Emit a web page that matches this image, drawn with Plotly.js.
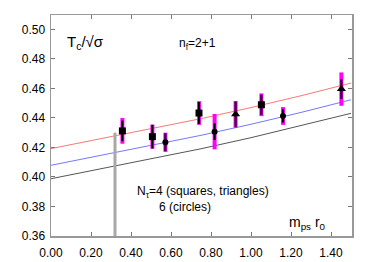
<!DOCTYPE html>
<html><head><meta charset="utf-8">
<script src="https://cdn.plot.ly/plotly-3.0.1.min.js"></script>
<style>html,body{margin:0;padding:0;background:#fff}</style>
</head><body><div id="plot" style="width:374px;height:262px"></div>
<script>
// Data
const sqX = [0.357, 0.507, 0.740, 1.052];
const sqY = [0.4312, 0.4273, 0.4433, 0.4489];
const sqErrStat = [0.0070, 0.0080, 0.0074, 0.0068];
const sqErrTot  = [0.0087, 0.0082, 0.0080, 0.0077];

const triX = [0.923, 1.452];
const triY = [0.4424, 0.4595];
const triErrStat = [0.0087, 0.0066];
const triErrTot  = [0.0090, 0.0113];

const cirX = [0.572, 0.818, 1.160];
const cirY = [0.4235, 0.4307, 0.4413];
const cirErrStat = [0.0060, 0.0056, 0.0045];
const cirErrTot  = [0.0065, 0.0120, 0.0060];

const fitX     = [0, 0.25, 0.5, 0.75, 1.0, 1.25, 1.5];
const fitRed   = [0.4192, 0.4258, 0.4325, 0.4395, 0.4470, 0.4550, 0.4636];
const fitBlue  = [0.4079, 0.4145, 0.4212, 0.4282, 0.4357, 0.4437, 0.4523];
const fitBlack = [0.3988, 0.4054, 0.4121, 0.4191, 0.4266, 0.4346, 0.4431];

const barX = [0.32, 0.32];
const barY = [0.36, 0.430];

const xTicks = [0, 0.2, 0.4, 0.6, 0.8, 1.0, 1.2, 1.4];
const xTickText = ['0.00','0.20','0.40','0.60','0.80','1.00','1.20','1.40'];
const yTicks = [0.36, 0.38, 0.40, 0.42, 0.44, 0.46, 0.48, 0.50];
const yTickText = ['0.36','0.38','0.40','0.42','0.44','0.46','0.48','0.50'];

const traces = [];
traces.push({x: fitX, y: fitBlack, mode:'lines', line:{color:'#555555', width:1}, hoverinfo:'skip'});
traces.push({x: fitX, y: fitBlue, mode:'lines', line:{color:'#7777ff', width:1}, hoverinfo:'skip'});
traces.push({x: fitX, y: fitRed, mode:'lines', line:{color:'#ff7777', width:1}, hoverinfo:'skip'});
traces.push({x: barX, y: barY, mode:'lines', line:{color:'#a8a8a8', width:3}, hoverinfo:'skip'});

function addSet(xs, ys, stat, tot, sym, size) {
  traces.push({x: xs, y: ys, mode:'markers', marker:{size:1, color:'rgba(0,0,0,0)'},
    error_y:{type:'data', array: tot, visible:true, color:'#ff00ff', thickness:4, width:0}});
  traces.push({x: xs, y: ys, mode:'markers', marker:{symbol: sym, size: size, color:'#000000'},
    error_y:{type:'data', array: stat, visible:true, color:'#000000', thickness:2, width:0}});
}
addSet(sqX, sqY, sqErrStat, sqErrTot, 'square', 7);
addSet(triX, triY, triErrStat, triErrTot, 'triangle-up', 8);
addSet(cirX, cirY, cirErrStat, cirErrTot, 'circle', 6);

const axisCommon = {
  showline:true, linecolor:'#999999', linewidth:1.5, mirror:'ticks',
  ticks:'inside', ticklen:4, tickcolor:'#777777', tickwidth:1,
  showgrid:false, zeroline:false,
  tickfont:{family:'Liberation Sans, Arial, sans-serif', size:12, color:'#000'}
};

const layout = {
  width:374, height:262,
  margin:{l:51, r:22, t:15, b:26},
  showlegend:false,
  paper_bgcolor:'#fff', plot_bgcolor:'#fff',
  xaxis: Object.assign({}, axisCommon, {range:[0,1.505], tickmode:'array', tickvals:xTicks, ticktext:xTickText, ticklabelstandoff:5}),
  yaxis: Object.assign({}, axisCommon, {range:[0.36,0.5097], tickmode:'array', tickvals:yTicks, ticktext:yTickText, ticklabelstandoff:2}),
  font:{family:'Liberation Sans, Arial, sans-serif', color:'#000'},
  annotations:[
    {x:0.07, y:0.4908, xref:'x', yref:'y', xanchor:'left', yanchor:'middle', showarrow:false,
     text:'T<sub>c</sub>/√σ', font:{size:15}},
    {x:0.63, y:0.4900, xref:'x', yref:'y', xanchor:'left', yanchor:'middle', showarrow:false,
     text:'n<sub>f</sub>=2+1', font:{size:12}},
    {x:0.42, y:0.3898, xref:'x', yref:'y', xanchor:'left', yanchor:'middle', showarrow:false,
     text:'N<sub>τ</sub>=4 (squares, triangles)', font:{size:12}},
    {x:0.53, y:0.3799, xref:'x', yref:'y', xanchor:'left', yanchor:'middle', showarrow:false,
     text:'6 (circles)', font:{size:12}},
    {x:1.18, y:0.3690, xref:'x', yref:'y', xanchor:'left', yanchor:'middle', showarrow:false,
     text:'m<sub>ps</sub> r<sub>0</sub>', font:{size:14}}
  ]
};

Plotly.newPlot('plot', traces, layout, {displayModeBar:false, staticPlot:true});
</script>
</body></html>
